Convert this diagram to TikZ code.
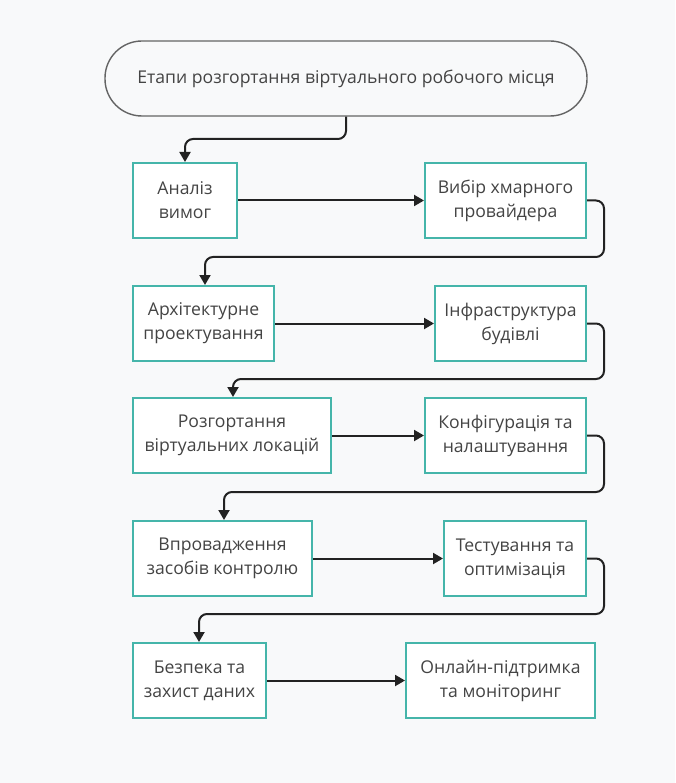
\documentclass[tikz,border=0pt]{standalone}
\usepackage{fontspec}
\setmainfont{Open Sans}
\usetikzlibrary{arrows.meta}
\definecolor{bg}{HTML}{F8F9FA}
\definecolor{teal1}{HTML}{45B5AA}
\definecolor{txt}{HTML}{444444}
\definecolor{ln}{HTML}{222222}
\tikzset{
  stepbox/.style={draw=teal1, line width=2pt, fill=white, text=txt, align=center, inner sep=0pt, font=\fontsize{17.6}{24}\selectfont},
  conn/.style={draw=ln, line width=2pt, rounded corners=8pt, -{Triangle[length=10pt,width=11pt]}}
}
\begin{document}
\begin{tikzpicture}[x=1pt,y=-1pt]
\fill[bg] (0,0) rectangle (675,783);
\useasboundingbox (0,0) rectangle (675,783);
\node[draw=ln!70, line width=1.4pt, fill=bg, rounded corners=37pt, minimum width=482pt, minimum height=75pt, text=txt, font=\fontsize{17.6}{24}\selectfont] (t) at (346,78.5) {Етапи розгортання віртуального робочого місця};
\newcommand{\bx}[6]{\node[stepbox, minimum width=#4-#3, minimum height=75pt] (#1) at ({(#3+#4)/2},#5) {#6};}
\bx{a}{}{133}{237}{200.5}{Аналіз\\вимог}
\bx{b}{}{425}{586}{200.5}{Вибір хмарного\\провайдера}
\bx{c}{}{133}{274}{323.5}{Архітектурне\\проектування}
\bx{d}{}{435}{586}{323.5}{Інфраструктура\\будівлі}
\bx{e}{}{133}{331}{435.5}{Розгортання\\віртуальних локацій}
\bx{f}{}{425}{586}{435.5}{Конфігурація та\\налаштування}
\bx{g}{}{133}{312}{558.5}{Впровадження\\засобів контролю}
\bx{h}{}{444}{586}{558.5}{Тестування та\\оптимізація}
\bx{i}{}{133}{266}{680.5}{Безпека та\\захист даних}
\bx{j}{}{406}{595}{680.5}{Онлайн-підтримка\\та моніторинг}
\draw[conn] (t.south) |- (185,139) -- (185,139 |- a.north);
\draw[conn] (a.east) -- (b.west);
\draw[conn] (b.east) -- (604,200.5) -- (604,257) -- (205,257) -- (205,257 |- c.north);
\draw[conn] (c.east) -- (d.west);
\draw[conn] (d.east) -- (604,323.5) -- (604,379) -- (233,379) -- (233,379 |- e.north);
\draw[conn] (e.east) -- (f.west);
\draw[conn] (f.east) -- (604,435.5) -- (604,492) -- (224,492) -- (224,492 |- g.north);
\draw[conn] (g.east) -- (h.west);
\draw[conn] (h.east) -- (604,558.5) -- (604,614) -- (199,614) -- (199,614 |- i.north);
\draw[conn] (i.east) -- (j.west);
\end{tikzpicture}
\end{document}
